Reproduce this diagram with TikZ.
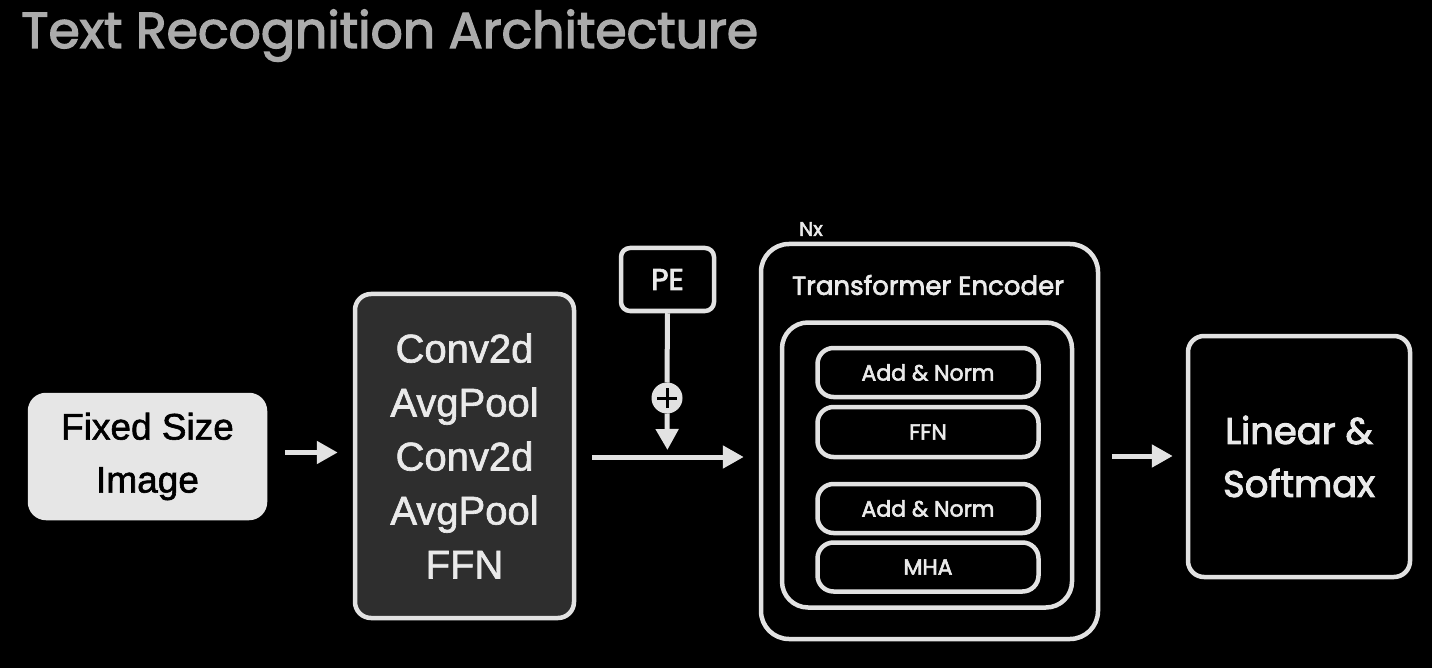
\documentclass[tikz,border=0pt]{standalone}
\usepackage{fontspec}
\setmainfont{Liberation Sans}[FakeBold=1.6]
\newfontfamily\pop{Poppins}[FakeBold=2.6]
\usetikzlibrary{arrows.meta}
\definecolor{edge}{HTML}{E2E2E2}
\definecolor{txt}{HTML}{EAEAEA}
\definecolor{titlec}{HTML}{ABABAB}
\definecolor{imgfill}{HTML}{E6E6E6}
\definecolor{cnnfill}{HTML}{2E2E2E}
\tikzset{
  blk/.style={draw=edge, line width=4.5pt, rounded corners=16pt, fill=black, text=txt, align=center, inner sep=0pt},
  sub/.style={blk, minimum width=221pt, minimum height=49pt, rounded corners=16pt, font=\pop\fontsize{22}{26}\selectfont},
  conn/.style={draw=edge, line width=5pt, -{Triangle[length=21pt,width=22pt]}},
}
\begin{document}
\begin{tikzpicture}[x=1pt,y=-1pt]
\fill[black] (0,0) rectangle (1432,668);
\useasboundingbox (0,0) rectangle (1432,668);

\node[anchor=base west, text=titlec, font=\pop\fontsize{50.5}{56}\selectfont, inner sep=0pt] (title) at (21,48) {Text Recognition Architecture};

\node[blk, fill=imgfill, draw=imgfill, text=black, minimum width=235pt, minimum height=123pt, font=\fontsize{37}{53}\selectfont] (img) at (147.5,456.5) {Fixed Size\\Image};

\node[blk, fill=cnnfill, minimum width=219pt, minimum height=324pt, font=\fontsize{40}{54}\selectfont] (cnn) at (464.5,456) {Conv2d\\AvgPool\\Conv2d\\AvgPool\\FFN};

\node[blk, rounded corners=9pt, minimum width=93pt, minimum height=63pt, font=\pop\fontsize{30}{34}\selectfont] (pe) at (667.5,279.5) {PE};

\node[circle, fill=edge, draw=edge, line width=1pt, minimum size=30pt, inner sep=0pt] (plus) at (667,398) {};
\draw[black, line width=3pt] ([xshift=-10pt]plus.center) -- ([xshift=10pt]plus.center);
\draw[black, line width=3pt] ([yshift=-10pt]plus.center) -- ([yshift=10pt]plus.center);

\node[blk, rounded corners=28pt, minimum width=337pt, minimum height=395pt] (enc) at (929.5,441.5) {};
\node[text=txt, font=\pop\fontsize{20}{24}\selectfont, inner sep=0pt] (nx) at (811,229) {Nx};
\node[text=txt, font=\pop\fontsize{26}{30}\selectfont, inner sep=0pt] (enct) at (928,285) {Transformer Encoder};
\node[blk, rounded corners=26pt, minimum width=290pt, minimum height=285pt] (inner) at (927,465) {};
\node[sub] (an1) at (928,372.5) {Add \& Norm};
\node[sub, minimum height=50pt] (ffn) at (928,432) {FFN};
\node[sub] (an2) at (928,508.5) {Add \& Norm};
\node[sub] (mha) at (928,567) {MHA};

\node[blk, minimum width=222pt, minimum height=241pt, font=\pop\fontsize{37}{53}\selectfont] (lin) at (1299,456.5) {Linear \&\\Softmax};

\draw[conn, shorten <=18pt, shorten >=15pt] ([yshift=4pt]img.east) -- ([yshift=4pt]img.east -| cnn.west);
\coordinate (j) at (pe.south |- 0,457);
\draw[conn, shorten <=16pt, shorten >=15pt] (cnn.east |- j) -- (j -| enc.west);
\draw[draw=edge, line width=5pt] (pe.south) -- (plus.north);
\draw[conn, shorten >=7pt] (plus.south) -- (j);
\draw[conn, shorten <=12pt, shorten >=13pt] (enc.east |- 0,456) -- (lin.west |- 0,456);
\end{tikzpicture}
\end{document}
